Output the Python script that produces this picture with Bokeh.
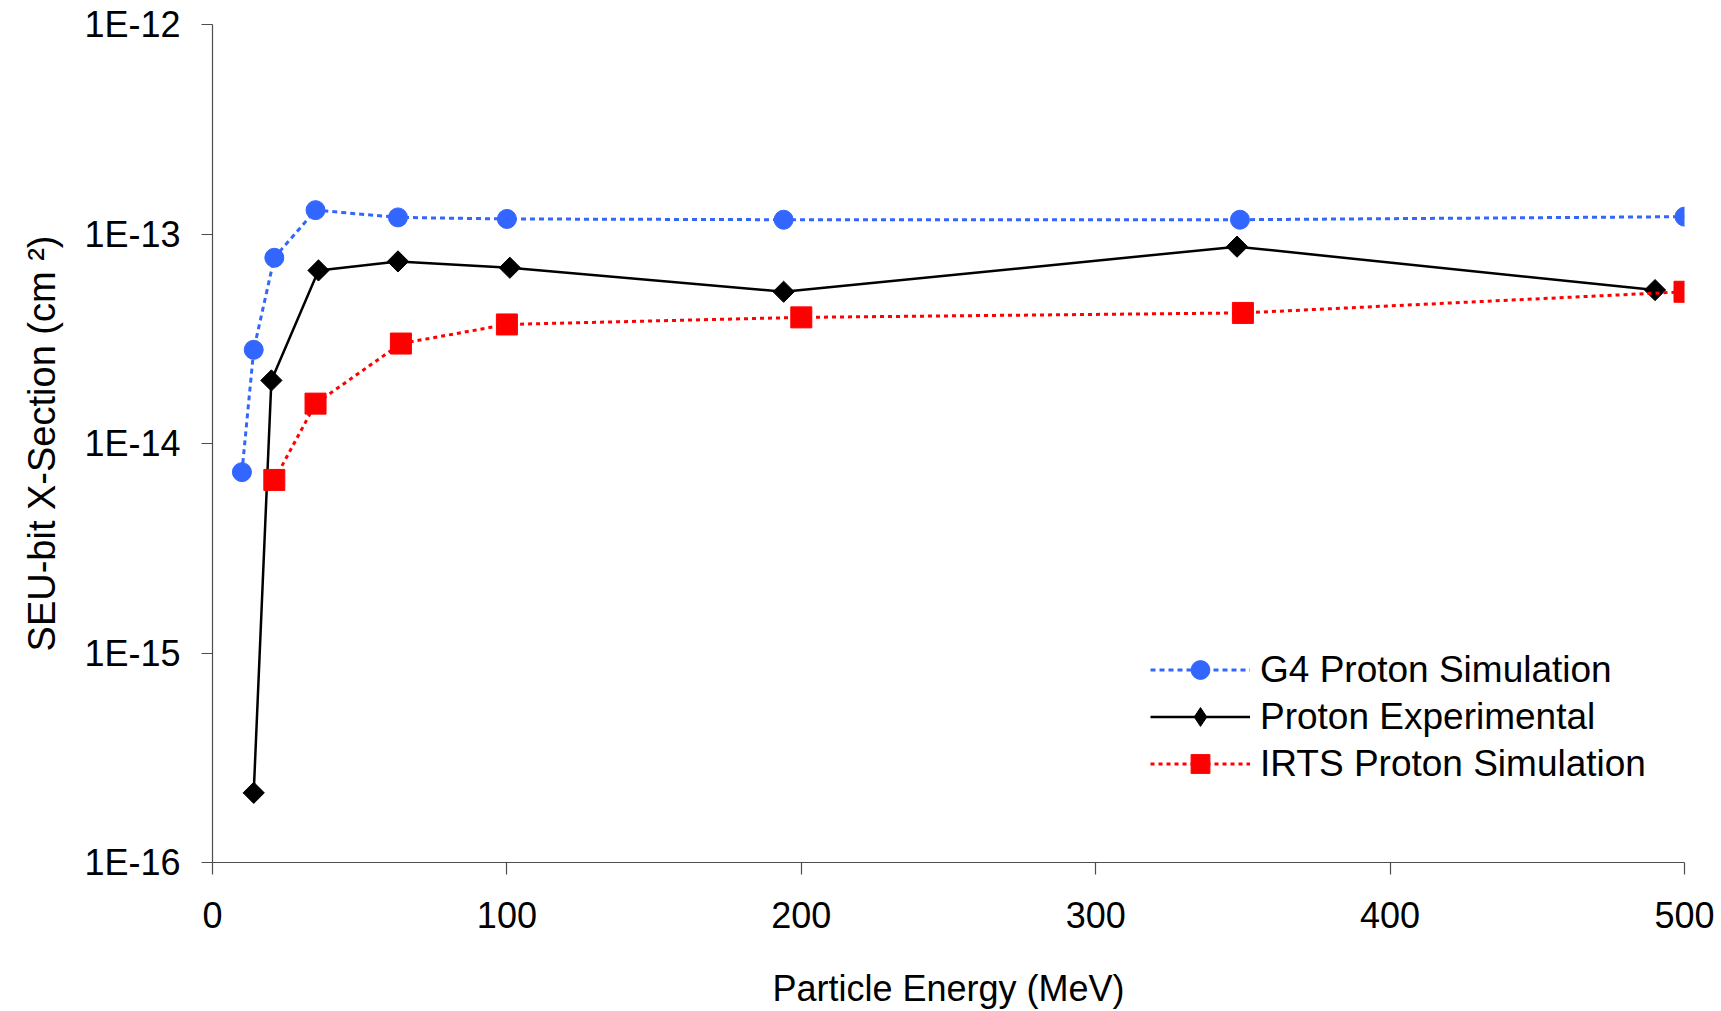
import numpy as np
from bokeh.plotting import figure
from bokeh.models import FixedTicker, CustomJSTickFormatter, Legend, LegendItem, Range1d
from bokeh.embed import file_html
from bokeh.resources import INLINE

# ---- data ----
g4_energy = [10, 14, 21, 35, 63, 100, 194, 349, 500]
g4_xs = [7.3e-15, 2.8e-14, 7.7e-14, 1.30e-13, 1.20e-13, 1.18e-13, 1.17e-13, 1.17e-13, 1.21e-13]

exp_energy = [14, 20, 36, 63, 101, 194, 348, 490]
exp_xs = [2.15e-16, 2.0e-14, 6.7e-14, 7.4e-14, 6.9e-14, 5.3e-14, 8.7e-14, 5.4e-14]

irts_energy = [21, 35, 64, 100, 200, 350, 500]
irts_xs = [6.7e-15, 1.55e-14, 3.0e-14, 3.7e-14, 4.0e-14, 4.2e-14, 5.3e-14]

x_ticks = [0, 100, 200, 300, 400, 500]
y_ticks = [1e-16, 1e-15, 1e-14, 1e-13, 1e-12]

series_names = ["G4 Proton Simulation", "Proton Experimental", "IRTS Proton Simulation"]

FONT = "Liberation Sans"

p = figure(width=1721, height=1011, y_axis_type="log",
           x_range=Range1d(0, 500), y_range=Range1d(1e-16, 1e-12),
           output_backend="svg", toolbar_location=None,
           min_border_left=212, min_border_right=37,
           min_border_top=24, min_border_bottom=149)
p.outline_line_color = None
p.xgrid.visible = False
p.ygrid.visible = False
p.background_fill_color = "white"
p.border_fill_color = "white"

# G4 (blue dotted, circles)
g4_line = p.line(g4_energy, g4_xs, line_color="#3366FF", line_width=3, line_dash="5 4")
g4_pts = p.scatter(g4_energy, g4_xs, marker="circle", size=19,
                   fill_color="#3366FF", line_color="#3366FF")

# Experimental (black solid, diamonds)
exp_line = p.line(exp_energy, exp_xs, line_color="black", line_width=2.5)
exp_pts = p.scatter(exp_energy, exp_xs, marker="square", angle=np.pi / 4, size=15,
                    fill_color="black", line_color="black")
# hidden diamond renderer, used only for the legend key
exp_key = p.scatter(exp_energy, exp_xs, marker="diamond", size=22,
                    fill_color="black", line_color="black", visible=False)

# IRTS (red dotted, squares)
irts_line = p.line(irts_energy, irts_xs, line_color="#FF0000", line_width=3, line_dash="4 4")
irts_pts = p.scatter(irts_energy, irts_xs, marker="square", size=21,
                     fill_color="#FF0000", line_color="#FF0000")

# axes
for ax in (p.xaxis[0], p.yaxis[0]):
    ax.axis_line_color = "#4d4d4d"
    ax.axis_line_width = 1.2
    ax.major_tick_line_color = "#4d4d4d"
    ax.major_tick_line_width = 1.2
    ax.major_tick_in = 0
    ax.minor_tick_line_color = None
    ax.major_label_text_font = FONT
    ax.major_label_text_color = "black"
    ax.axis_label_text_font = FONT
    ax.axis_label_text_font_style = "normal"
    ax.axis_label_text_color = "black"

p.xaxis[0].ticker = FixedTicker(ticks=x_ticks, minor_ticks=[])
p.xaxis[0].major_tick_out = 12
p.xaxis[0].major_label_standoff = 27
p.xaxis[0].major_label_text_font_size = "36px"
p.xaxis[0].axis_label = "Particle Energy (MeV)"
p.xaxis[0].axis_label_text_font_size = "36px"
p.xaxis[0].axis_label_standoff = 37

p.yaxis[0].ticker = FixedTicker(ticks=y_ticks, minor_ticks=[])
p.yaxis[0].formatter = CustomJSTickFormatter(code="return '1E' + Math.round(Math.log10(tick));")
p.yaxis[0].major_tick_out = 11
p.yaxis[0].major_label_standoff = 21
p.yaxis[0].major_label_text_font_size = "36px"
p.yaxis[0].axis_label = "SEU-bit X-Section (cm \u00b2)"
p.yaxis[0].axis_label_text_font_size = "38px"
p.yaxis[0].axis_label_standoff = 18

legend = Legend(items=[
    LegendItem(label=series_names[0], renderers=[g4_line, g4_pts]),
    LegendItem(label=series_names[1], renderers=[exp_line, exp_key]),
    LegendItem(label=series_names[2], renderers=[irts_line, irts_pts]),
], location=(938, 75))
legend.glyph_width = 100
legend.glyph_height = 47
legend.label_height = 40
legend.spacing = 0
legend.padding = 0
legend.margin = 0
legend.label_standoff = 10
legend.border_line_color = None
legend.background_fill_alpha = 0
legend.label_text_font = FONT
legend.label_text_font_size = "37px"
legend.label_text_color = "black"
p.add_layout(legend, "center")

open("out.html", "w").write(file_html(p, INLINE))
